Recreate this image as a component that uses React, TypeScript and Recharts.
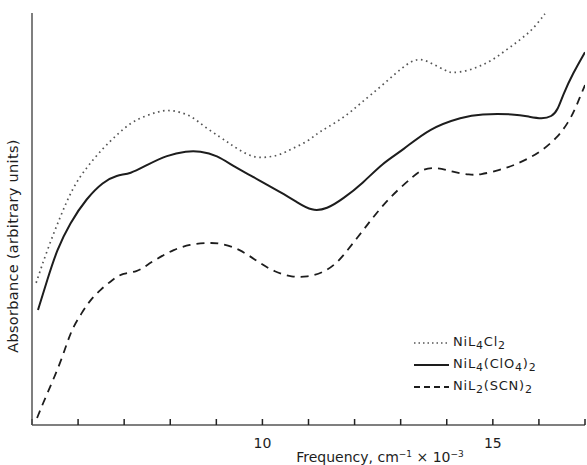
import { LineChart, Line, XAxis, YAxis } from 'recharts';

// frequency in cm-1 x 10-3, absorbance in arbitrary units (0-100)
const FREQ_TICKS = [5, 6, 7, 8, 9, 10, 11, 12, 13, 14, 15, 16, 17];
const LABELED_TICKS = [10, 15];

const CL2_FREQ = [5.09, 5.33, 5.61, 5.89, 6.19, 6.54, 6.84, 7.13, 7.41, 7.71, 7.95, 8.21, 8.49, 8.75, 9.08, 9.3, 9.56, 9.84, 10.12, 10.38, 10.66, 10.97, 11.2, 11.42, 11.79, 12.11, 12.61, 13.16, 13.44, 13.7, 14.0, 14.11, 14.44, 14.72, 15.0, 15.26, 15.5, 15.72, 15.85, 16.04, 16.13];
const CL2_ABS = [34.5, 42.5, 50.5, 57.8, 62.6, 67.2, 70.4, 73.3, 74.8, 76.0, 76.5, 76.0, 74.8, 72.3, 69.9, 68.2, 66.3, 64.8, 65.0, 65.5, 67.2, 68.7, 70.9, 72.3, 74.8, 77.9, 82.5, 88.1, 89.1, 87.6, 85.9, 85.4, 85.9, 87.1, 88.6, 90.8, 92.7, 94.7, 95.9, 98.5, 99.8];

const CLO4_FREQ = [5.13, 5.33, 5.54, 5.82, 6.19, 6.54, 6.84, 7.13, 7.49, 7.93, 8.36, 8.64, 9.01, 9.4, 9.73, 10.1, 10.38, 10.75, 11.07, 11.4, 11.75, 12.18, 12.61, 13.05, 13.63, 14.35, 14.72, 15.48, 15.8, 16.06, 16.28, 16.41, 16.52, 16.74, 17.0];
const CLO4_ABS = [27.9, 35.2, 42.5, 49.0, 55.1, 59.0, 60.7, 60.9, 63.1, 65.5, 66.5, 66.5, 65.5, 62.6, 60.7, 58.3, 56.6, 54.1, 51.9, 52.4, 54.9, 58.7, 63.6, 66.7, 72.1, 74.8, 75.5, 75.5, 74.8, 74.3, 74.8, 76.5, 80.1, 85.4, 90.5];

const SCN_FREQ = [5.11, 5.24, 5.43, 5.61, 5.76, 5.89, 6.08, 6.26, 6.48, 6.76, 6.97, 7.28, 7.49, 7.78, 8.06, 8.43, 8.8, 9.08, 9.51, 9.9, 10.27, 10.64, 10.97, 11.31, 11.62, 11.85, 12.07, 12.27, 12.48, 12.72, 12.98, 13.26, 13.46, 13.79, 14.13, 14.5, 14.72, 15.15, 15.43, 15.8, 16.08, 16.41, 16.63, 16.78, 16.89, 17.0];
const SCN_ABS = [1.7, 5.3, 10.2, 15.0, 19.9, 23.8, 27.2, 30.3, 32.8, 35.4, 36.9, 37.1, 38.8, 40.8, 42.5, 43.9, 44.2, 44.2, 42.7, 39.6, 37.1, 35.9, 35.9, 36.9, 39.3, 42.5, 45.6, 48.5, 51.5, 54.6, 57.5, 60.2, 62.1, 62.6, 61.4, 60.7, 60.7, 61.9, 62.9, 64.8, 66.7, 69.9, 73.3, 76.5, 79.6, 82.5];

const toPoints = (freq: number[], abs: number[]) => freq.map((f, i) => ({ f, a: abs[i] }));

const cl2 = toPoints(CL2_FREQ, CL2_ABS);
const clo4 = toPoints(CLO4_FREQ, CLO4_ABS);
const scn = toPoints(SCN_FREQ, SCN_ABS);

const FONT = '"DejaVu Sans", sans-serif';
const INK = '#1d1d1d';

// tick lines point up into the plot (negative tickSize); tickMargin puts the label anchor back on the axis
function FreqTick({ x, y, payload }: any) {
  const v = payload.value;
  if (!LABELED_TICKS.includes(v)) return <g />;
  return (
    <text x={x} y={y + 23} textAnchor="middle" fontSize={14} fill={INK} fontFamily={FONT}>
      {v}
    </text>
  );
}

const freqLabel = () => (
  <text x={380} y={462} textAnchor="middle" fontSize={14} fill={INK} fontFamily={FONT}>
    Frequency, cm
    <tspan dy={-5} fontSize={9}>−1</tspan>
    <tspan dy={5}> × 10</tspan>
    <tspan dy={-5} fontSize={9}>−3</tspan>
  </text>
);

function LegendRow({ dash, width, color, children }: any) {
  return (
    <div style={{ display: 'flex', alignItems: 'center', height: 22 }}>
      <svg width={38} height={10}>
        <line x1={1} x2={36} y1={5} y2={5} stroke={color} strokeWidth={width} strokeDasharray={dash} />
      </svg>
      <span style={{ fontSize: 13, letterSpacing: 0.8, color: INK, marginLeft: 2 }}>{children}</span>
    </div>
  );
}

const sub = (t: string) => <sub style={{ fontSize: 11, verticalAlign: -3 }}>{t}</sub>;

export default function App() {
  return (
    <div style={{ position: 'absolute', left: 0, top: 0, width: 587, height: 465, background: '#fff', fontFamily: FONT }}>
      <LineChart width={587} height={465} margin={{ top: 13, right: 2, bottom: 0, left: 0 }}>
        <XAxis
          dataKey="f"
          type="number"
          domain={[5, 17]}
          ticks={FREQ_TICKS}
          allowDataOverflow
          height={40}
          tickSize={-6}
          tickMargin={6}
          tickLine={{ stroke: '#222', strokeWidth: 1.5 }}
          tick={FreqTick}
          axisLine={{ stroke: '#555', strokeWidth: 1.5 }}
          label={freqLabel}
        />
        <YAxis
          type="number"
          domain={[0, 100]}
          allowDataOverflow
          width={32}
          tick={false}
          tickLine={false}
          axisLine={{ stroke: '#555', strokeWidth: 1.5 }}
        />
        <Line
          data={cl2}
          dataKey="a"
          type="basis"
          stroke="#555"
          strokeWidth={1.7}
          strokeDasharray="1.6 3.6"
          dot={false}
          isAnimationActive={false}
        />
        <Line
          data={clo4}
          dataKey="a"
          type="basis"
          stroke={INK}
          strokeWidth={2}
          dot={false}
          isAnimationActive={false}
        />
        <Line
          data={scn}
          dataKey="a"
          type="basis"
          stroke={INK}
          strokeWidth={1.8}
          strokeDasharray="8 6"
          dot={false}
          isAnimationActive={false}
        />
      </LineChart>
      <svg style={{ position: 'absolute', left: 0, top: 0 }} width={32} height={465}>
        <text
          x={18}
          y={246}
          textAnchor="middle"
          fontSize={14.5}
          letterSpacing={0.3}
          fill={INK}
          fontFamily={FONT}
          transform="rotate(-90 18 246)"
        >
          Absorbance (arbitrary units)
        </text>
      </svg>
      <div style={{ position: 'absolute', left: 413, top: 332 }}>
        <LegendRow dash="1.5 3" width={1.5} color="#555">
          NiL{sub('4')}Cl{sub('2')}
        </LegendRow>
        <LegendRow width={2} color={INK}>
          NiL{sub('4')}(ClO{sub('4')}){sub('2')}
        </LegendRow>
        <LegendRow dash="6 4" width={1.8} color={INK}>
          NiL{sub('2')}(SCN){sub('2')}
        </LegendRow>
      </div>
    </div>
  );
}
